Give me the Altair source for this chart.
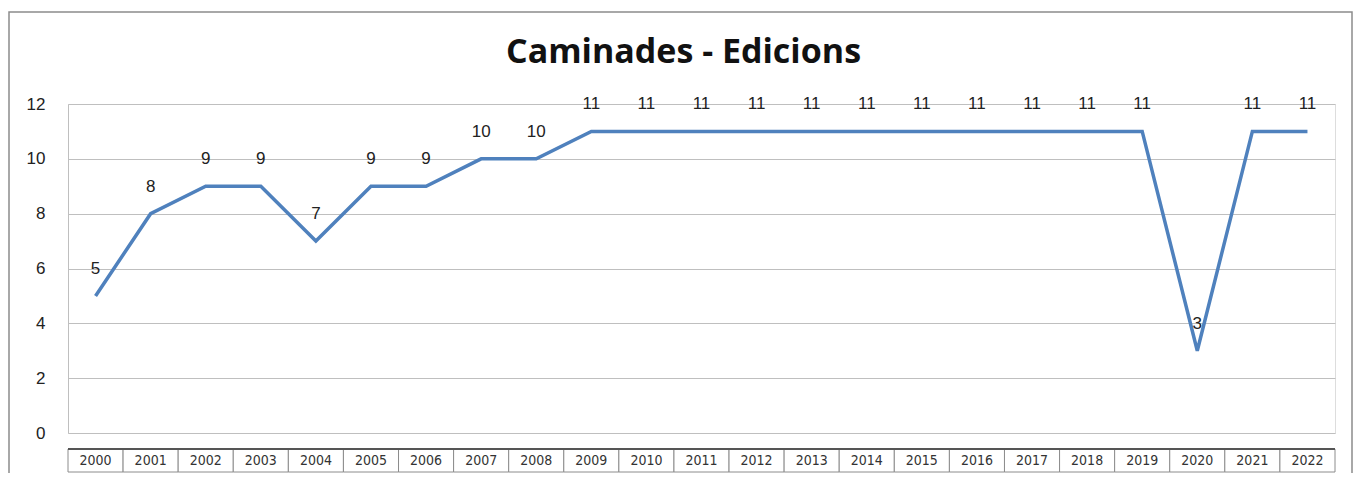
import altair as alt
import pandas as pd

years = [str(y) for y in range(2000, 2023)]
edicions = [5, 8, 9, 9, 7, 9, 9, 10, 10, 11, 11, 11, 11, 11, 11, 11, 11, 11, 11, 11, 3, 11, 11]
y_ticks = [0, 2, 4, 6, 8, 10, 12]
title_text = "Caminades - Edicions"

df = pd.DataFrame({"any": years, "edicions": edicions})

W, H = 1267, 329
xs = alt.X("any:N", sort=years, axis=None,
           scale=alt.Scale(paddingInner=0, paddingOuter=0))

base = alt.Chart(df)

line = base.mark_line(color="#4F81BD", strokeWidth=3.5).encode(
    x=xs,
    y=alt.Y("edicions:Q",
            scale=alt.Scale(domain=[0, 12], nice=False),
            axis=alt.Axis(values=y_ticks, title=None, grid=True, gridColor="#BFBFBF",
                          gridWidth=1, domain=True, domainColor="#BFBFBF", ticks=False,
                          labelFontSize=17, labelColor="#222222", labelPadding=23,
                          labelFont="Liberation Sans")),
)

labels = base.mark_text(dy=-27, fontSize=17, color="#222222", font="Liberation Sans").encode(
    x=xs, y="edicions:Q", text="edicions:Q"
)

cells = base.mark_rect(fill="white", stroke="#8C8C8C", strokeWidth=1).encode(
    x=xs, y=alt.value(H + 16), y2=alt.value(H + 39)
)
cell_text = base.mark_text(fontSize=14, color="#333333",
                           font="Liberation Sans Narrow, DejaVu Sans Condensed, sans-serif").encode(
    x=xs, y=alt.value(H + 28), text="any:N"
)
table_top = base.mark_rule(color="#555555", strokeWidth=2).encode(
    x=alt.value(0), x2=alt.value(W), y=alt.value(H + 16)
)
single = base.transform_filter("datum.any == '2000'")
frame = single.mark_rect(fill=None, stroke="#8C8C8C", strokeWidth=1.5).encode(
    x=alt.value(-59), x2=alt.value(W + 17), y=alt.value(-92), y2=alt.value(H + 60)
)
title = single.mark_text(fontSize=34, fontWeight="bold", font="Open Sans",
                         color="#111111", baseline="middle", align="center").encode(
    x=alt.value(W / 2 - 18), y=alt.value(-51), text=alt.value(title_text)
)

chart = alt.layer(frame, title, line, labels, cells, cell_text, table_top).properties(
    width=W, height=H,
    autosize=alt.AutoSizeParams(type="none"),
    padding={"left": 60, "top": 96, "right": 19, "bottom": 40},
).configure_view(stroke=None).configure(background="white")

chart.save("out.html", embed_options={"renderer": "svg", "actions": False})
